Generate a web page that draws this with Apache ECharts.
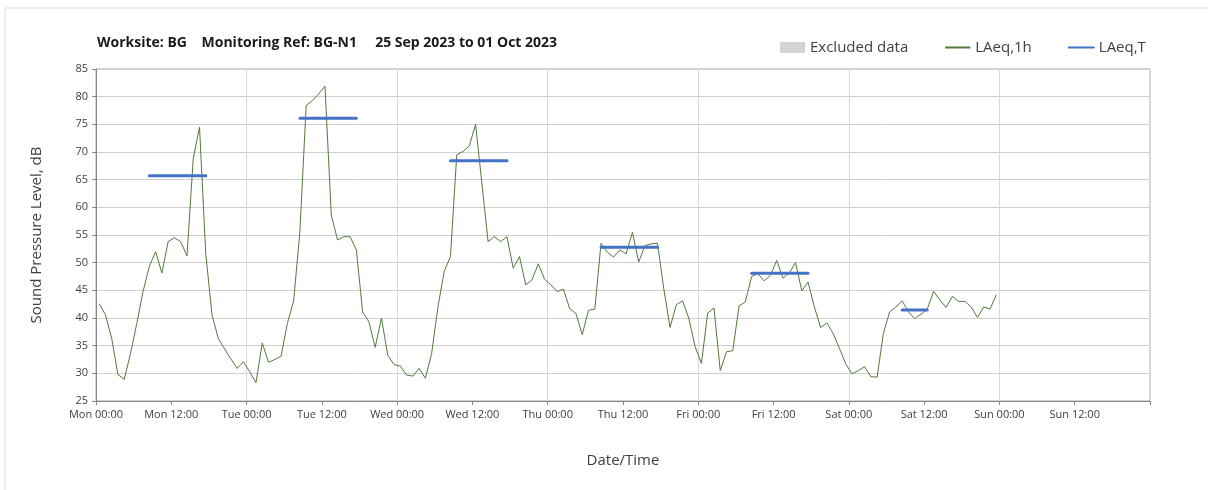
<!DOCTYPE html>
<html>
<head>
<meta charset="utf-8">
<script src="https://cdn.jsdelivr.net/npm/echarts@6/dist/echarts.min.js"></script>
<style>
    html, body { margin: 0; padding: 0; background: #fff; }
    #noiseChart { width: 1208px; height: 490px; }
</style>
</head>
<body>
<div id="noiseChart"></div>
<script>
    // hourly LAeq,1h, one value per hour from Mon 00:00 (plotted at the middle of the hour)
    var laeq1h = [
        42.6, 40.6, 36.3, 29.8, 28.9, 33.6, 39.0, 44.8, 49.3, 52.0, 48.1, 53.8, 54.5, 53.8, 51.2, 68.8, 74.5, 51.5, 40.5, 36.3, 34.4, 32.6, 30.9, 32.1,
        30.3, 28.3, 35.5, 32.0, 32.5, 33.1, 39.0, 43.1, 55.6, 78.4, 79.3, 80.5, 81.9, 58.6, 54.1, 54.7, 54.7, 52.3, 41.1, 39.3, 34.7, 40.0, 33.3, 31.6,
        31.3, 29.7, 29.5, 30.9, 29.1, 33.6, 42.0, 48.4, 51.1, 69.5, 70.1, 71.1, 75.0, 64.4, 53.8, 54.7, 53.8, 54.7, 49.0, 51.1, 46.0, 46.9, 49.8, 47.0,
        46.0, 44.8, 45.2, 41.7, 40.8, 37.0, 41.4, 41.6, 53.5, 51.9, 51.0, 52.3, 51.6, 55.5, 50.1, 53.1, 53.4, 53.5, 45.3, 38.3, 42.4, 43.1, 39.9, 34.8,
        31.8, 40.9, 41.8, 30.5, 33.9, 34.1, 42.2, 42.9, 47.5, 48.0, 46.7, 47.7, 50.4, 47.2, 48.1, 50.0, 44.9, 46.5, 42.0, 38.3, 39.1, 37.2, 34.5, 31.7,
        29.9, 30.5, 31.2, 29.4, 29.3, 37.2, 41.1, 42.0, 43.1, 41.1, 39.9, 40.7, 41.6, 44.8, 43.3, 41.9, 43.9, 43.0, 43.0, 42.0, 40.1, 42.0, 41.6, 44.2
    ];

    // LAeq,T periods (hours from Mon 00:00) and levels
    var periodStart = [8.5, 32.5, 56.5, 80.5, 104.5, 128.5];
    var periodEnd = [17.5, 41.5, 65.5, 89.5, 113.5, 132.5];
    var laeqT = [65.7, 76.1, 68.4, 52.8, 48.1, 41.45];

    var dayNames = ['Mon', 'Tue', 'Wed', 'Thu', 'Fri', 'Sat', 'Sun'];

    var font = '"Open Sans", "Noto Sans", sans-serif';

    var hourlyData = laeq1h.map(function (v, i) {
        return [i + 0.5, v];
    });

    var periodData = [];
    laeqT.forEach(function (v, i) {
        periodData.push([periodStart[i], v]);
        periodData.push([periodEnd[i], v]);
        periodData.push([periodEnd[i], null]);
    });

    var chart = echarts.init(document.getElementById('noiseChart'));
    chart.setOption({
        animation: false,
        backgroundColor: '#fff',
        title: {
            text: 'Worksite: BG    Monitoring Ref: BG-N1     25 Sep 2023 to 01 Oct 2023',
            left: 92,
            top: 31,
            textStyle: { fontFamily: font, fontSize: 14, fontWeight: 'bold', color: '#1a1a1a' }
        },
        legend: {
            left: 775,
            top: 35,
            itemGap: 36,
            itemWidth: 25,
            itemHeight: 11,
            textStyle: { fontFamily: font, fontSize: 15, color: '#404040' },
            data: [
                { name: 'Excluded data', icon: 'rect' },
                { name: 'LAeq,1h', itemStyle: { opacity: 0 } },
                { name: 'LAeq,T', itemStyle: { opacity: 0 } }
            ]
        },
        graphic: [
            { type: 'line', shape: { x1: 5, y1: 8, x2: 5, y2: 490 }, style: { stroke: '#d9d9d9', lineWidth: 1 } },
            { type: 'line', shape: { x1: 5, y1: 8, x2: 1208, y2: 8 }, style: { stroke: '#d9d9d9', lineWidth: 1 } }
        ],
        grid: {
            left: 96,
            right: 58,
            top: 69,
            bottom: 89,
            show: true,
            borderColor: '#a6a6a6',
            borderWidth: 1
        },
        xAxis: [
            {
                type: 'value',
                min: 0,
                max: 168,
                interval: 12,
                name: 'Date/Time',
                nameLocation: 'middle',
                nameGap: 52,
                nameTextStyle: { fontFamily: font, fontSize: 15, color: '#404040' },
                axisLine: { lineStyle: { color: '#868686' } },
                axisTick: { length: 4, lineStyle: { color: '#868686' } },
                splitLine: { show: false },
                axisLabel: {
                    fontFamily: font,
                    fontSize: 11,
                    color: '#404040',
                    margin: 8,
                    formatter: function (v) {
                        if (v >= 168) return '';
                        var d = dayNames[Math.floor(v / 24)];
                        return d + ' ' + (v % 24 === 0 ? '00:00' : '12:00');
                    }
                }
            },
            {
                type: 'value',
                position: 'top',
                min: 0,
                max: 168,
                interval: 24,
                axisLine: { show: false },
                axisTick: { show: false },
                axisLabel: { show: false },
                splitLine: { show: true, lineStyle: { color: '#d9d9d9' } }
            }
        ],
        yAxis: {
            type: 'value',
            min: 25,
            max: 85,
            interval: 5,
            name: 'Sound Pressure Level, dB',
            nameLocation: 'middle',
            nameGap: 52,
            nameTextStyle: { fontFamily: font, fontSize: 15, color: '#404040' },
            axisLine: { show: true, lineStyle: { color: '#868686' } },
            axisTick: { show: true, length: 4, lineStyle: { color: '#868686' } },
            axisLabel: { fontFamily: font, fontSize: 11, color: '#404040', margin: 8 },
            splitLine: { lineStyle: { color: '#d0d0d0' } }
        },
        series: [
            {
                name: 'Excluded data',
                type: 'bar',
                data: [],
                itemStyle: { color: '#d3d3d3' }
            },
            {
                name: 'LAeq,1h',
                type: 'line',
                data: hourlyData,
                symbol: 'none',
                lineStyle: { color: '#52783c', width: 1 },
                itemStyle: { color: '#52783c' }
            },
            {
                name: 'LAeq,T',
                type: 'line',
                data: periodData,
                symbol: 'none',
                connectNulls: false,
                lineStyle: { color: '#4472c4', width: 3, cap: 'round' },
                itemStyle: { color: '#4472c4' },
                z: 3
            }
        ]
    });
</script>
</body>
</html>
